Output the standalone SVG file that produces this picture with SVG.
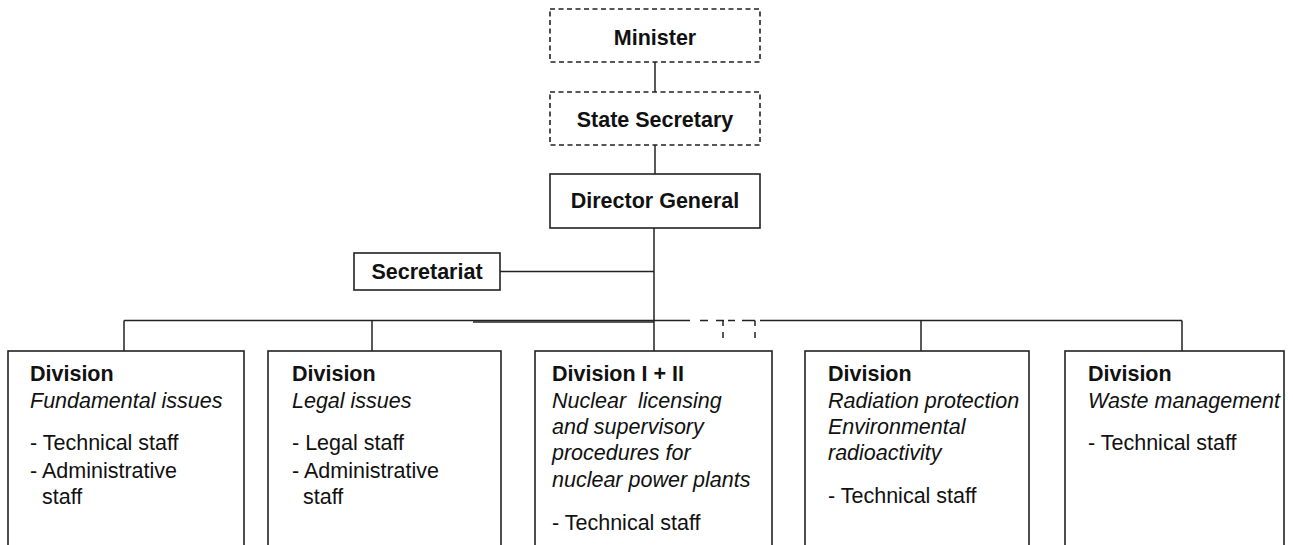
<svg xmlns="http://www.w3.org/2000/svg" width="1293" height="545" viewBox="0 0 1293 545">
<style>
.box{fill:#fff;stroke:#222;stroke-width:1.6}
.dbox{fill:#fff;stroke:#222;stroke-width:1.6;stroke-dasharray:5 3.5}
.ln{fill:none;stroke:#222;stroke-width:1.5}
.dl{fill:none;stroke:#222;stroke-width:1.5;stroke-dasharray:7 6}
text{font-family:"Liberation Sans",Arial,sans-serif;font-size:21.5px;fill:#111}
.b{font-weight:bold}
.i{font-style:italic}
.c{text-anchor:middle}
</style>
<rect width="1293" height="545" fill="#fff"/>
<g id="connectors">
<line class="ln" x1="655" y1="62" x2="655" y2="92"/>
<line class="ln" x1="655" y1="145" x2="655" y2="174"/>
<line class="ln" x1="654" y1="228" x2="654" y2="351"/>
<line class="ln" x1="500" y1="271.5" x2="654" y2="271.5"/>
<line class="ln" x1="124" y1="320.5" x2="690" y2="320.5"/>
<line class="ln" x1="473" y1="322" x2="654" y2="322"/>
<line class="ln" x1="700" y1="320.5" x2="708" y2="320.5"/>
<line class="ln" x1="716" y1="320.5" x2="724" y2="320.5"/>
<line class="ln" x1="728" y1="320.5" x2="735" y2="320.5"/>
<line class="ln" x1="742" y1="320.5" x2="755" y2="320.5"/>
<line class="ln" x1="760" y1="320.5" x2="1182" y2="320.5"/>
<line class="ln" x1="723" y1="320.5" x2="723" y2="326"/>
<line class="ln" x1="723" y1="332" x2="723" y2="338"/>
<line class="ln" x1="755" y1="320.5" x2="755" y2="326"/>
<line class="ln" x1="755" y1="332" x2="755" y2="338"/>
<line class="ln" x1="124" y1="320.5" x2="124" y2="351"/>
<line class="ln" x1="372" y1="320.5" x2="372" y2="351"/>
<line class="ln" x1="921" y1="320.5" x2="921" y2="351"/>
<line class="ln" x1="1182" y1="320.5" x2="1182" y2="351"/>
</g>
<g id="minister">
<rect class="dbox" x="550" y="9" width="210" height="53"/>
<text class="b c" x="655" y="45">Minister</text>
</g>
<g id="state-secretary">
<rect class="dbox" x="550" y="92" width="210" height="53"/>
<text class="b c" x="655" y="127">State Secretary</text>
</g>
<g id="director-general">
<rect class="box" x="550" y="174" width="210" height="54"/>
<text class="b c" x="655" y="208">Director General</text>
</g>
<g id="secretariat">
<rect class="box" x="354" y="253" width="146" height="37"/>
<text class="b c" x="427" y="279">Secretariat</text>
</g>
<g id="div-fundamental">
<rect class="box" x="8" y="351" width="236" height="220"/>
<text class="b" x="30" y="381">Division</text>
<text class="i" x="30" y="408">Fundamental issues</text>
<text x="30" y="450">- Technical staff</text>
<text x="30" y="478">- Administrative</text>
<text x="42" y="504">staff</text>
</g>
<g id="div-legal">
<rect class="box" x="268" y="351" width="233" height="220"/>
<text class="b" x="292" y="381">Division</text>
<text class="i" x="292" y="408">Legal issues</text>
<text x="292" y="450">- Legal staff</text>
<text x="292" y="478">- Administrative</text>
<text x="303" y="504">staff</text>
</g>
<g id="div-nuclear">
<rect class="box" x="535" y="351" width="237" height="220"/>
<text class="b" x="552" y="381">Division I + II</text>
<text class="i" x="552" y="408" xml:space="preserve">Nuclear  licensing</text>
<text class="i" x="552" y="434">and supervisory</text>
<text class="i" x="552" y="460">procedures for</text>
<text class="i" x="552" y="487">nuclear power plants</text>
<text x="552" y="530">- Technical staff</text>
</g>
<g id="div-radiation">
<rect class="box" x="805" y="351" width="224" height="220"/>
<text class="b" x="828" y="381">Division</text>
<text class="i" x="828" y="408">Radiation protection</text>
<text class="i" x="828" y="434">Environmental</text>
<text class="i" x="828" y="460">radioactivity</text>
<text x="828" y="503">- Technical staff</text>
</g>
<g id="div-waste">
<rect class="box" x="1065" y="351" width="219" height="220"/>
<text class="b" x="1088" y="381">Division</text>
<text class="i" x="1088" y="408">Waste management</text>
<text x="1088" y="450">- Technical staff</text>
</g>
</svg>
